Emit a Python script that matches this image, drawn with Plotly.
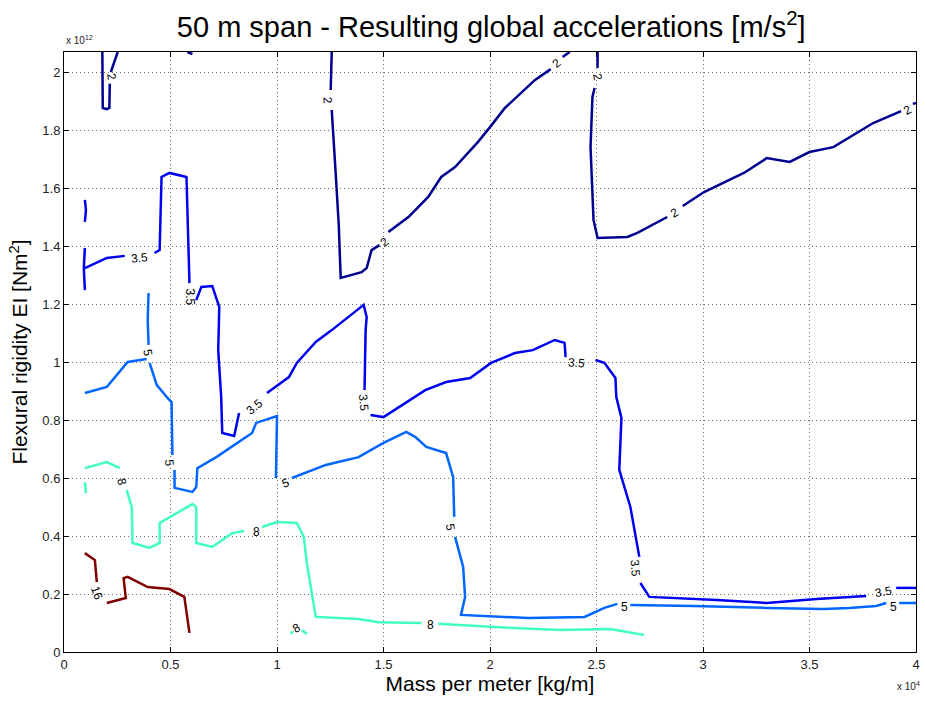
import plotly.graph_objects as go

# ---- contour data (x in 1e4 kg/m, y in 1e12 Nm^2) ----
levels = [2, 3.5, 5, 8, 16]
level_colors = {2: "#000090", 3.5: "#0000F0", 5: "#0066FF", 8: "#40FFBF", 16: "#800000"}

# level 2
c2a_x = [0.252, 0.220, None, 0.215, 0.213, 0.201, 0.182, 0.180]
c2a_y = [2.069, 2.000, None, 1.960, 1.876, 1.872, 1.876, 2.069]
c2b_x = [0.579, 0.603]
c2b_y = [2.069, 2.062]
c2c_x = [1.257, 1.252, None, 1.257, 1.262, 1.276, 1.290, 1.299, 1.397, 1.421, 1.444, 1.481, None,
         1.523, 1.617, 1.710, 1.771, 1.836, 1.944, 2.000, 2.070, 2.210, 2.285, None, 2.341, 2.374]
c2c_y = [2.069, 1.938, None, 1.869, 1.800, 1.645, 1.472, 1.290, 1.310, 1.324, 1.386, 1.403, None,
         1.448, 1.500, 1.569, 1.638, 1.672, 1.759, 1.810, 1.876, 1.972, 2.010, None, 2.052, 2.069]
c2d_x = [2.505, 2.505, None, 2.491, 2.481, 2.472, 2.481, 2.486, 2.505, 2.645, 2.692, 2.832, None,
         2.905, 3.005, 3.192, 3.299, 3.407, 3.500, 3.612, 3.799, 3.930, None, 3.985, 4.000]
c2d_y = [2.069, 2.014, None, 1.945, 1.914, 1.741, 1.593, 1.490, 1.428, 1.431, 1.445, 1.500, None,
         1.538, 1.586, 1.652, 1.703, 1.690, 1.724, 1.741, 1.824, 1.865, None, 1.890, 1.893]

# level 3.5
c35a_x = [0.098, 0.103, 0.098]
c35a_y = [1.559, 1.524, 1.483]
c35b_x = [0.098, 0.093, 0.098]
c35b_y = [1.393, 1.324, 1.248]
c35c_x = [0.098, 0.201, 0.285, None, 0.425, 0.449, 0.458, 0.495, 0.575, 0.589, None,
          0.621, 0.645, 0.696, 0.729, 0.724, 0.738, 0.743, 0.799, 0.822, None,
          0.953, 1.056, 1.093, 1.182, 1.257, 1.407, 1.421, 1.416, 1.411, None,
          1.439, 1.500, 1.696, 1.794, 1.907, 2.005, 2.117, 2.201, 2.304, 2.350, 2.355, None,
          2.495, 2.537, 2.589, 2.593, 2.617, 2.607, 2.659, 2.701, None,
          2.706, 2.748, 3.065, 3.299, 3.533, 3.766, None, 3.907, 4.000]
c35c_y = [1.324, 1.359, 1.366, None, 1.376, 1.386, 1.638, 1.652, 1.638, 1.272, None,
          1.214, 1.259, 1.262, 1.190, 1.041, 0.879, 0.755, 0.745, 0.824, None,
          0.893, 0.948, 0.997, 1.069, 1.110, 1.197, 1.155, 1.110, 0.903, None,
          0.817, 0.810, 0.903, 0.931, 0.945, 0.997, 1.031, 1.041, 1.076, 1.066, 1.017, None,
          1.007, 0.997, 0.945, 0.879, 0.807, 0.628, 0.500, 0.328, None,
          0.238, 0.190, 0.179, 0.169, 0.183, 0.193, None, 0.221, 0.221]

# level 5
c5a_x = [0.098, 0.201, 0.299, 0.388]
c5a_y = [0.893, 0.914, 1.000, 1.010]
c5b_x = [0.397, 0.393, 0.397, None, 0.402, 0.435, 0.486, 0.505, 0.509, None,
         0.519, 0.519, 0.603, 0.621, 0.626, 0.715, 0.883, 0.902, 1.000, 0.995, None,
         1.070, 1.229, 1.383, 1.500, 1.607, 1.650, 1.701, 1.794, 1.827, 1.832, None,
         1.836, 1.874, 1.883, 1.864, 2.178, 2.444, 2.537, 2.598, None,
         2.659, 2.958, 3.299, 3.565, 3.687, 3.813, 3.860, None, 3.921, 4.000]
c5b_y = [1.238, 1.145, 1.059, None, 0.997, 0.921, 0.876, 0.862, 0.679, None,
         0.628, 0.566, 0.552, 0.569, 0.634, 0.672, 0.755, 0.790, 0.814, 0.600, None,
         0.600, 0.645, 0.672, 0.721, 0.759, 0.741, 0.707, 0.686, 0.603, 0.466, None,
         0.397, 0.293, 0.190, 0.128, 0.117, 0.121, 0.152, 0.166, None,
         0.162, 0.159, 0.152, 0.148, 0.152, 0.159, 0.169, None, 0.169, 0.169]

# level 8
c8a_x = [0.098, 0.201, 0.262, None, 0.294, 0.318, 0.322, 0.402, 0.449, 0.449, 0.603, 0.621,
         0.621, 0.696, 0.790, 0.846, None, 0.930, 1.000, 1.093, 1.126, 1.140, 1.182, 1.383,
         1.477, 1.678, None, 1.757, 2.023, 2.332, 2.565, 2.645, 2.724]
c8a_y = [0.634, 0.655, 0.634, None, 0.559, 0.500, 0.376, 0.359, 0.376, 0.445, 0.510, 0.500,
         0.376, 0.362, 0.410, 0.417, None, 0.431, 0.448, 0.445, 0.397, 0.307, 0.121, 0.114,
         0.103, 0.100, None, 0.097, 0.086, 0.076, 0.079, 0.069, 0.059]
c8b_x = [0.098, 0.103]
c8b_y = [0.586, 0.548]
c8c_x = [1.065, 1.075, None, 1.117, 1.140]
c8c_y = [0.062, 0.072, None, 0.076, 0.062]

# level 16
c16_x = [0.098, 0.145, 0.154, None, 0.201, 0.290, 0.280, 0.299, 0.393, 0.495, 0.565, 0.589]
c16_y = [0.341, 0.317, 0.241, None, 0.169, 0.186, 0.255, 0.259, 0.224, 0.217, 0.190, 0.066]

segments = [
    (2, c2a_x, c2a_y), (2, c2b_x, c2b_y), (2, c2c_x, c2c_y), (2, c2d_x, c2d_y),
    (3.5, c35a_x, c35a_y), (3.5, c35b_x, c35b_y), (3.5, c35c_x, c35c_y),
    (5, c5a_x, c5a_y), (5, c5b_x, c5b_y),
    (8, c8a_x, c8a_y), (8, c8b_x, c8b_y), (8, c8c_x, c8c_y),
    (16, c16_x, c16_y),
]

# contour labels
label_text = ["2", "2", "2", "2", "2", "2", "2",
              "3.5", "3.5", "3.5", "3.5", "3.5", "3.5", "3.5",
              "5", "5", "5", "5", "5", "5",
              "8", "8", "8", "8", "16"]
label_x = [0.224, 1.236, 1.505, 2.313, 2.505, 2.864, 3.960,
           0.355, 0.589, 0.893, 1.407, 2.407, 2.682, 3.846,
           0.393, 0.495, 1.042, 1.813, 2.631, 3.893,
           0.271, 0.902, 1.720, 1.093, 0.154]
label_y = [1.983, 1.903, 1.414, 2.031, 1.983, 1.514, 1.869,
           1.359, 1.224, 0.845, 0.859, 0.997, 0.290, 0.207,
           1.031, 0.652, 0.583, 0.431, 0.155, 0.155,
           0.586, 0.414, 0.093, 0.083, 0.203]
label_angle = [80, 85, -40, -40, 80, -30, -30,
               -5, 90, -40, 85, 5, 85, -10,
               80, 85, -20, 80, 0, 0,
               75, 0, 0, -30, 70]

x_ticks = [0, 0.5, 1, 1.5, 2, 2.5, 3, 3.5, 4]
y_ticks = [0, 0.2, 0.4, 0.6, 0.8, 1.0, 1.2, 1.4, 1.6, 1.8, 2.0]

FONT = "Liberation Sans, Arial"

fig = go.Figure()
for lev, xs, ys in segments:
    fig.add_trace(go.Scatter(x=xs, y=ys, mode="lines",
                             line=dict(color=level_colors[lev], width=2.5),
                             showlegend=False, hoverinfo="skip"))

for t, x, y, a in zip(label_text, label_x, label_y, label_angle):
    fig.add_annotation(x=x, y=y, text=t, showarrow=False, textangle=a,
                       font=dict(family=FONT, size=12, color="black"))

fig.add_annotation(xref="paper", yref="paper", x=0, y=1, xanchor="left", yanchor="bottom",
                   yshift=4, text="x 10<sup>12</sup>", showarrow=False,
                   font=dict(family=FONT, size=10, color="#222"))
fig.add_annotation(xref="paper", yref="paper", x=1, y=0, xanchor="center", yanchor="top",
                   yshift=-26, xshift=-8, text="x 10<sup>4</sup>", showarrow=False,
                   font=dict(family=FONT, size=10, color="#222"))

axis_common = dict(showline=True, linecolor="black", linewidth=1, mirror="ticks",
                   ticks="inside", ticklen=5, tickcolor="black",
                   showgrid=True, gridcolor="#6e6e6e", griddash="1px,3px", gridwidth=1,
                   zeroline=False,
                   tickfont=dict(family=FONT, size=13, color="#222"))

fig.update_layout(
    width=925, height=702,
    margin=dict(l=64, r=5, t=52, b=50),
    paper_bgcolor="white", plot_bgcolor="white",
    title=dict(text="50 m span - Resulting global accelerations [m/s<sup>2</sup>]",
               x=0.531, xanchor="center", y=0.962, yanchor="middle",
               font=dict(family=FONT, size=29, color="black")),
    xaxis=dict(range=[0, 4], tickvals=x_ticks,
               ticktext=[f"{v:g}" for v in x_ticks],
               title=dict(text="Mass per meter [kg/m]", standoff=5,
                          font=dict(family=FONT, size=21, color="black")),
               **axis_common),
    yaxis=dict(range=[0, 2.069], tickvals=y_ticks,
               ticktext=[f"{v:g}" for v in y_ticks],
               title=dict(text="Flexural rigidity EI [Nm<sup>2</sup>]", standoff=8,
                          font=dict(family=FONT, size=21, color="black")),
               **axis_common),
)

fig.write_html("out.html")
